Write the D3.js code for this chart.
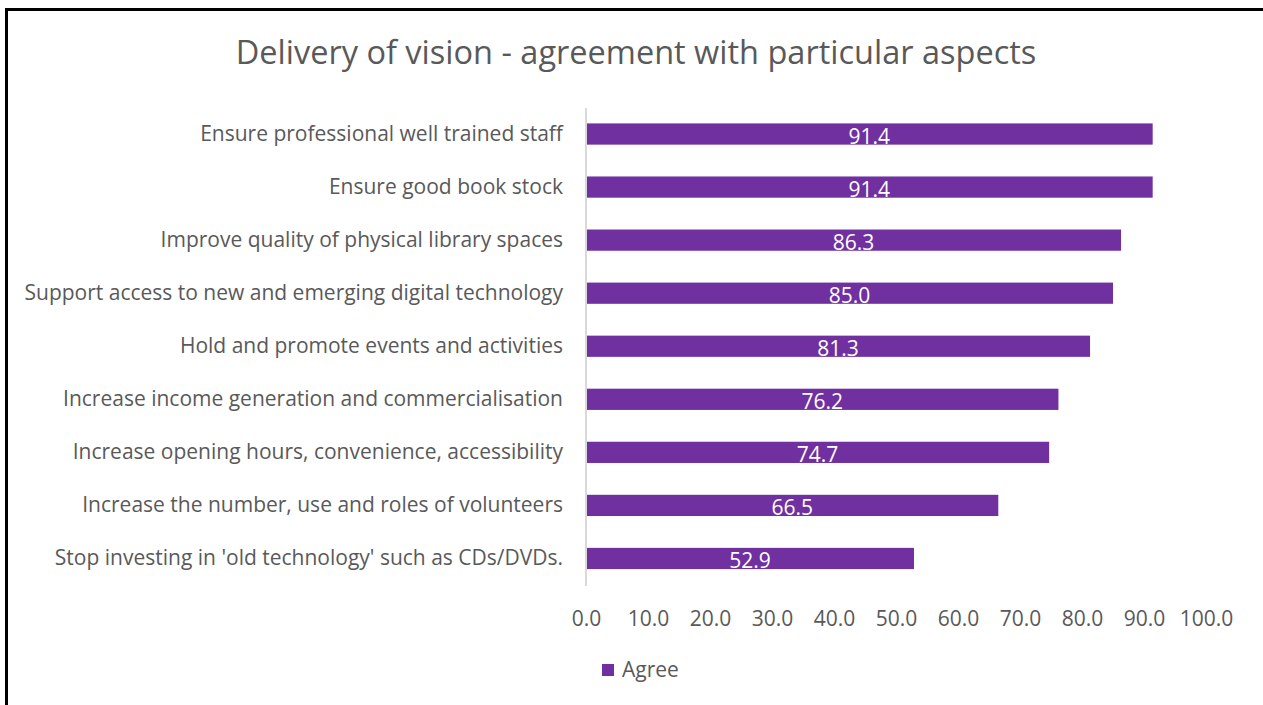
<!DOCTYPE html>
<html>
<head>
<meta charset="utf-8">
<script src="https://cdn.jsdelivr.net/npm/d3@7"></script>
<style>
  html, body { margin: 0; padding: 0; background: #fff; }
  svg { display: block; }
  text { font-family: "Open Sans", sans-serif; }
</style>
</head>
<body>
<svg id="chart" width="1263" height="705"></svg>
<script>
// Survey aspects, top to bottom
const categories = [
  "Ensure professional well trained staff",
  "Ensure good book stock",
  "Improve quality of physical library spaces",
  "Support access to new and emerging digital technology",
  "Hold and promote events and activities",
  "Increase income generation and commercialisation",
  "Increase opening hours, convenience, accessibility",
  "Increase the number, use and roles of volunteers",
  "Stop investing in 'old technology' such as CDs/DVDs."
];
// Percentage agreeing with each aspect
const agree = [91.4, 91.4, 86.3, 85.0, 81.3, 76.2, 74.7, 66.5, 52.9];
const tickValues = [0, 10, 20, 30, 40, 50, 60, 70, 80, 90, 100];
const seriesName = "Agree";
const chartTitle = "Delivery of vision - agreement with particular aspects";

const svg = d3.select("#chart");
const purple = "#7030a0";
const textGrey = "#595959";
const font = "'Open Sans', sans-serif";

// Frame around the chart area
svg.append("rect")
  .attr("x", 6.5).attr("y", 9.5)
  .attr("width", 1300).attr("height", 720)
  .attr("fill", "#fff")
  .attr("stroke", "#000")
  .attr("stroke-width", 3);

const x = d3.scaleLinear().domain([0, 100]).range([586, 1206]);
const y = d3.scaleBand().domain(categories).range([107.5, 585]).paddingInner(0.6).paddingOuter(0.3);

// Title
svg.append("text")
  .attr("x", 636).attr("y", 64)
  .attr("text-anchor", "middle")
  .attr("font-size", 32.5)
  .attr("fill", textGrey)
  .text(chartTitle);

// Bars
svg.append("g").selectAll("rect")
  .data(agree)
  .join("rect")
  .attr("x", x(0))
  .attr("y", (d, i) => y(categories[i]))
  .attr("width", d => x(d) - x(0))
  .attr("height", y.bandwidth())
  .attr("fill", purple);

// Category axis (vertical line, labels on the left)
const yAxis = svg.append("g")
  .attr("transform", `translate(${x(0)},0)`)
  .call(d3.axisLeft(y).tickSize(0).tickPadding(23));
yAxis.select(".domain").attr("stroke", "#d9d9d9").attr("stroke-width", 2)
  .attr("d", `M0,${108}V${586}`);
yAxis.selectAll("text")
  .attr("font-size", 21)
  .attr("fill", textGrey)
  .attr("font-family", font);

// Value axis labels (no line)
const xAxis = svg.append("g")
  .attr("transform", `translate(0,${605})`)
  .call(d3.axisBottom(x).tickValues(tickValues).tickFormat(d3.format(".1f")).tickSize(0).tickPadding(6));
xAxis.select(".domain").remove();
xAxis.selectAll("text")
  .attr("font-size", 21)
  .attr("fill", textGrey)
  .attr("font-family", font);

// Data labels inside bars
svg.append("g").selectAll("text")
  .data(agree)
  .join("text")
  .attr("x", d => (x(0) + x(d)) / 2)
  .attr("y", (d, i) => y(categories[i]) + y.bandwidth() / 2 + 10)
  .attr("text-anchor", "middle")
  .attr("font-size", 21)
  .attr("fill", "#fff")
  .text(d => d3.format(".1f")(d));

// Legend
const legend = svg.append("g").attr("transform", "translate(602,664)");
legend.append("rect").attr("width", 12).attr("height", 12).attr("fill", purple);
legend.append("text")
  .attr("x", 20).attr("y", 13)
  .attr("font-size", 21)
  .attr("fill", textGrey)
  .text(seriesName);
</script>
</body>
</html>
